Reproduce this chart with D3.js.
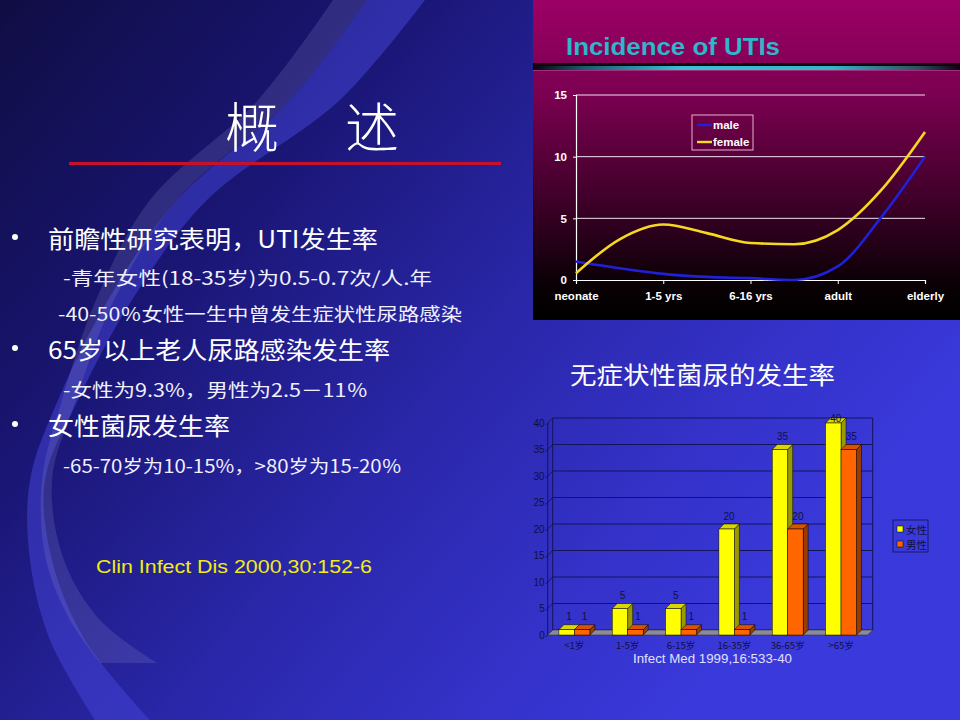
<!DOCTYPE html>
<html><head><meta charset="utf-8">
<script src="https://cdn.jsdelivr.net/npm/d3@7"></script>
<style>html,body{margin:0;padding:0;background:#000;overflow:hidden}</style>
</head><body>
<svg id="c" width="960" height="720"></svg>
<script>
// ---------- data ----------
const slideTitleChars = ["概", "述"];
const outlineTexts = [
  "前瞻性研究表明，UTI发生率",
  "-青年女性(18-35岁)为0.5-0.7次/人.年",
  "-40-50％女性一生中曾发生症状性尿路感染",
  "65岁以上老人尿路感染发生率",
  "-女性为9.3%，男性为2.5－11％",
  "女性菌尿发生率",
  "-65-70岁为10-15%，>80岁为15-20％"
];
const outlineLevels = [1, 2, 2, 1, 2, 1, 2];
const leftSource = "Clin Infect Dis 2000,30:152-6";

const utiTitle = "Incidence of UTIs";
const ageStages = ["neonate", "1-5 yrs", "6-16 yrs", "adult", "elderly"];
const samplePositions = [0, 0.5, 1, 1.5, 2, 2.5, 3, 3.5, 4];
const maleIncidence   = [1.5, 0.95, 0.5, 0.25, 0.15, 0.0, 1.1, 5.1, 10];
const femaleIncidence = [0.55, 3.3, 4.5, 3.8, 3.0, 2.9, 4.05, 7.3, 12];
const utiYTicks = [0, 5, 10, 15];
const utiSeriesNames = ["male", "female"];

const barTitle = "无症状性菌尿的发生率";
const ageGroups = ["<1岁", "1-5岁", "6-15岁", "16-35岁", "36-65岁", ">65岁"];
const femaleRate = [1, 5, 5, 20, 35, 40];
const maleRate   = [1, 1, 1, 1, 20, 35];
const barSeriesNames = ["女性", "男性"];
const barYTicks = [0, 5, 10, 15, 20, 25, 30, 35, 40];
const barSource = "Infect Med 1999,16:533-40";

// ---------- drawing ----------
const svg = d3.select("#c");
const defs = svg.append("defs");
const CJK = "'Noto Sans CJK SC', 'Noto Sans', sans-serif";
const ARIAL = "'Liberation Sans', Arial, sans-serif";

// background
const bg = defs.append("linearGradient").attr("id", "bg")
  .attr("gradientUnits", "userSpaceOnUse").attr("x1", 0).attr("y1", 0).attr("x2", 760).attr("y2", 640);
[[0, "#100d44"], [0.3, "#191572"], [0.6, "#2a27aa"], [0.85, "#3533cc"], [1, "#3a39dc"]]
  .forEach(([o, c]) => bg.append("stop").attr("offset", o).attr("stop-color", c));
svg.append("rect").attr("width", 960).attr("height", 720).attr("fill", "url(#bg)");

// swoosh decoration
const line = d3.line().curve(d3.curveCatmullRom);
function band(L, R) { return line(L) + "L" + line(R.slice().reverse()).slice(1) + "Z"; }
const brightL = [[367,0],[290,100],[177,200],[108,300],[58,400],[30,480],[30,560],[50,640],[95,720]];
const brightR = [[425,0],[340,100],[207,200],[132,300],[78,400],[45,480],[52,560],[85,640],[150,720]];
svg.append("path").attr("d", band(brightL, brightR)).attr("fill", "#4646dc").attr("opacity", 0.5);
const grayL = [[333,0],[258,100],[150,200],[96,300],[62,400],[42,480],[46,560],[70,620],[100,663]];
const grayR = [[367,0],[290,100],[177,200],[114,300],[76,400],[52,480],[64,560],[100,620],[157,663]];
svg.append("path").attr("d", band(grayL, grayR)).attr("fill", "#8a8ac8").attr("opacity", 0.22);

// slide title
const titleX = [252, 372];
svg.selectAll("text.st").data(slideTitleChars).join("text")
  .attr("x", (d, i) => titleX[i]).attr("y", 124)
  .attr("text-anchor", "middle").attr("dominant-baseline", "central")
  .attr("font-family", CJK).attr("font-size", 54).attr("font-weight", 300)
  .attr("fill", "#ffffff").text(d => d);
svg.append("rect").attr("x", 69).attr("y", 162).attr("width", 432).attr("height", 3).attr("fill", "#c8102a");

// outline text
const lineY = [237, 277, 313, 348, 389, 424, 465];
const lineX = [48, 63, 58, 48, 63, 48, 63];
const lineW = [330, 369, 404, 342, 305, 182, 339];
outlineTexts.forEach((t, i) => {
  const lvl = outlineLevels[i];
  if (lvl === 1) {
    svg.append("circle").attr("cx", 15).attr("cy", lineY[i]).attr("r", 3).attr("fill", "#ffffff");
  }
  svg.append("text").attr("x", lineX[i]).attr("y", lineY[i])
    .attr("dominant-baseline", "central")
    .attr("font-family", CJK).attr("font-size", lvl === 1 ? 24 : 18)
    .attr("fill", lvl === 1 ? "#ffffff" : "#f0f0ff")
    .attr("textLength", lineW[i]).attr("lengthAdjust", "spacingAndGlyphs")
    .text(t);
});
svg.append("text").attr("x", 96).attr("y", 567).attr("dominant-baseline", "central")
  .attr("font-family", ARIAL).attr("font-size", 18).attr("fill", "#f2ee10")
  .attr("textLength", 276).attr("lengthAdjust", "spacingAndGlyphs").text(leftSource);

// ---------- line chart panel ----------
const pg = defs.append("linearGradient").attr("id", "panel").attr("x1", 0).attr("y1", 0).attr("x2", 0).attr("y2", 1);
[[0, "#9c0066"], [0.3, "#7a0050"], [0.65, "#3a0026"], [0.9, "#080004"], [1, "#000000"]]
  .forEach(([o, c]) => pg.append("stop").attr("offset", o).attr("stop-color", c));
svg.append("rect").attr("x", 533).attr("y", 0).attr("width", 427).attr("height", 320).attr("fill", "url(#panel)");

svg.append("text").attr("x", 566).attr("y", 55)
  .attr("font-family", ARIAL).attr("font-weight", "bold").attr("font-size", 23)
  .attr("fill", "#2fb6c8").attr("textLength", 214).attr("lengthAdjust", "spacingAndGlyphs")
  .text(utiTitle);
const rg = defs.append("linearGradient").attr("id", "rule");
[[0, "#100008"], [0.12, "#1c5a70"], [0.35, "#3cc0d4"], [0.7, "#38b4c8"], [0.9, "#305060"], [1, "#100010"]]
  .forEach(([o, c]) => rg.append("stop").attr("offset", o).attr("stop-color", c));
svg.append("rect").attr("x", 533).attr("y", 63).attr("width", 427).attr("height", 3).attr("fill", "#140010");
svg.append("rect").attr("x", 533).attr("y", 66).attr("width", 427).attr("height", 4).attr("fill", "url(#rule)");
svg.append("rect").attr("x", 533).attr("y", 70).attr("width", 427).attr("height", 1).attr("fill", "#c060a0").attr("opacity", 0.5);

const xL = d3.scaleLinear().domain([0, 4]).range([576, 925]);
const yL = d3.scaleLinear().domain([0, 15]).range([280, 95]);
const lc = svg.append("g");
lc.selectAll("line.g").data(utiYTicks.filter(d => d > 0)).join("line")
  .attr("x1", xL(0)).attr("x2", xL(4)).attr("y1", d => yL(d)).attr("y2", d => yL(d))
  .attr("stroke", "#f0e0f0").attr("stroke-width", 1);
const yAxisL = lc.append("g").attr("transform", `translate(${xL(0)},0)`)
  .call(d3.axisLeft(yL).tickValues(utiYTicks).tickSize(3).tickPadding(6));
const xAxisL = lc.append("g").attr("transform", `translate(0,${yL(0)})`)
  .call(d3.axisBottom(xL).tickValues([0, 1, 2, 3, 4]).tickFormat(i => ageStages[i]).tickSize(4).tickPadding(8));
[yAxisL, xAxisL].forEach(a => {
  a.select(".domain").attr("stroke", "#ffffff").attr("stroke-width", 1.2);
  a.selectAll(".tick line").attr("stroke", "#ffffff");
  a.selectAll(".tick text").attr("fill", "#ffffff").attr("font-family", ARIAL)
    .attr("font-weight", "bold").attr("font-size", 11.5);
});
const lineGen = d3.line().x((d, i) => xL(samplePositions[i])).y(d => yL(d)).curve(d3.curveMonotoneX);
lc.append("path").attr("d", lineGen(maleIncidence)).attr("fill", "none").attr("stroke", "#2020d8").attr("stroke-width", 2.6);
lc.append("path").attr("d", lineGen(femaleIncidence)).attr("fill", "none").attr("stroke", "#f6d820").attr("stroke-width", 2.6);

// legend
lc.append("rect").attr("x", 692).attr("y", 115).attr("width", 61).attr("height", 35)
  .attr("fill", "none").attr("stroke", "#e8b0d0").attr("stroke-width", 1);
const legColors = ["#2020d8", "#f6d820"];
utiSeriesNames.forEach((n, i) => {
  const yy = 125 + i * 17;
  lc.append("line").attr("x1", 697).attr("x2", 712).attr("y1", yy).attr("y2", yy)
    .attr("stroke", legColors[i]).attr("stroke-width", 2.4);
  lc.append("text").attr("x", 713).attr("y", yy).attr("dominant-baseline", "central")
    .attr("font-family", ARIAL).attr("font-weight", "bold").attr("font-size", 11.5)
    .attr("fill", "#ffffff").text(n);
});

// ---------- bar chart ----------
svg.append("text").attr("x", 570).attr("y", 373).attr("dominant-baseline", "central")
  .attr("font-family", CJK).attr("font-size", 24).attr("fill", "#ffffff")
  .attr("textLength", 265).attr("lengthAdjust", "spacingAndGlyphs").text(barTitle);

const DX = 5, DY = -5;
const x0 = 547.7, x1 = 867.7;
const xB = d3.scaleBand().domain(ageGroups).range([x0, x1]).paddingInner(0.42).paddingOuter(0.21);
const xSub = d3.scaleBand().domain(barSeriesNames).range([0, xB.bandwidth()]);
const yB = d3.scaleLinear().domain([0, 40]).range([635, 423]);
const bc = svg.append("g");
const gridCol = "#14145a";
bc.selectAll("line.grid").data(barYTicks).join("line")
  .attr("x1", x0 + DX).attr("x2", x1 + DX).attr("y1", d => yB(d) + DY).attr("y2", d => yB(d) + DY)
  .attr("stroke", gridCol).attr("stroke-width", 1);
bc.selectAll("line.diag").data(barYTicks).join("line")
  .attr("x1", x0 - 2).attr("x2", x0 + DX).attr("y1", d => yB(d) + 2).attr("y2", d => yB(d) + DY)
  .attr("stroke", gridCol).attr("stroke-width", 1);
bc.append("line").attr("x1", x0 + DX).attr("x2", x0 + DX).attr("y1", yB(0) + DY).attr("y2", yB(40) + DY).attr("stroke", gridCol);
bc.append("line").attr("x1", x1 + DX).attr("x2", x1 + DX).attr("y1", yB(0) + DY).attr("y2", yB(40) + DY).attr("stroke", gridCol);
bc.append("line").attr("x1", x0).attr("x2", x0).attr("y1", yB(0)).attr("y2", yB(40)).attr("stroke", gridCol);
bc.append("path").attr("d", `M${x0},${yB(0)}L${x1},${yB(0)}L${x1 + DX},${yB(0) + DY}L${x0 + DX},${yB(0) + DY}Z`)
  .attr("fill", "#8a8a9a").attr("stroke", "#303040").attr("stroke-width", 0.6);
bc.selectAll("text.yt").data(barYTicks).join("text")
  .attr("x", x0 - 3).attr("y", d => yB(d)).attr("text-anchor", "end").attr("dominant-baseline", "central")
  .attr("font-family", ARIAL).attr("font-size", 10).attr("fill", "#101040").text(d => d);

const faces = {
  "女性": { front: "#ffff00", top: "#d8d800", side: "#9a9a00" },
  "男性": { front: "#ff6600", top: "#d85400", side: "#983c00" }
};
const barData = [];
ageGroups.forEach((g, i) => {
  barData.push({ g, s: "女性", v: femaleRate[i] });
  barData.push({ g, s: "男性", v: maleRate[i] });
});
barData.forEach(d => {
  const bx = xB(d.g) + xSub(d.s), bw = xSub.bandwidth();
  const yt = yB(d.v), yb = yB(0);
  const f = faces[d.s];
  const g = bc.append("g");
  g.append("path").attr("d", `M${bx + bw},${yb}L${bx + bw + DX},${yb + DY}L${bx + bw + DX},${yt + DY}L${bx + bw},${yt}Z`)
    .attr("fill", f.side).attr("stroke", "#000").attr("stroke-width", 0.5);
  g.append("path").attr("d", `M${bx},${yt}L${bx + DX},${yt + DY}L${bx + bw + DX},${yt + DY}L${bx + bw},${yt}Z`)
    .attr("fill", f.top).attr("stroke", "#000").attr("stroke-width", 0.5);
  g.append("rect").attr("x", bx).attr("y", yt).attr("width", bw).attr("height", yb - yt)
    .attr("fill", f.front).attr("stroke", "#000").attr("stroke-width", 0.5);
  g.append("text").attr("x", bx + bw / 2 + DX / 2).attr("y", Math.max(yt - 13, 418))
    .attr("text-anchor", "middle").attr("dominant-baseline", "central")
    .attr("font-family", ARIAL).attr("font-size", 10).attr("fill", "#101040").text(d.v);
});
bc.selectAll("text.cat").data(ageGroups).join("text")
  .attr("x", d => xB(d) + xB.bandwidth() / 2).attr("y", 645)
  .attr("text-anchor", "middle").attr("dominant-baseline", "central")
  .attr("font-family", CJK).attr("font-size", 9.5).attr("fill", "#101040").text(d => d);
bc.append("rect").attr("x", 893).attr("y", 520).attr("width", 35).attr("height", 32)
  .attr("fill", "none").attr("stroke", "#181860").attr("stroke-width", 1);
barSeriesNames.forEach((n, i) => {
  const yy = 529 + i * 15;
  bc.append("rect").attr("x", 897).attr("y", yy - 3).attr("width", 6).attr("height", 6)
    .attr("fill", faces[n].front).attr("stroke", "#000").attr("stroke-width", 0.5);
  bc.append("text").attr("x", 906).attr("y", yy).attr("dominant-baseline", "central")
    .attr("font-family", CJK).attr("font-size", 10.5).attr("fill", "#101040").text(n);
});
svg.append("text").attr("x", 633).attr("y", 659).attr("dominant-baseline", "central")
  .attr("font-family", ARIAL).attr("font-size", 12).attr("fill", "#e0e0ff")
  .attr("textLength", 159).attr("lengthAdjust", "spacingAndGlyphs").text(barSource);
</script>
</body></html>
